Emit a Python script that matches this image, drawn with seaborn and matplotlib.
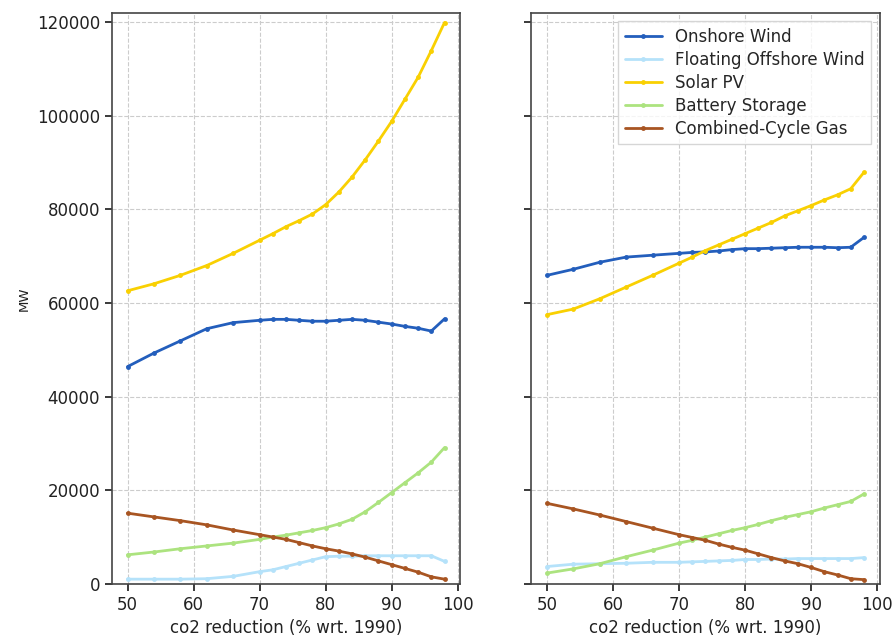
import numpy as np
import pandas as pd
import matplotlib
matplotlib.use("Agg")
import matplotlib.pyplot as plt
import seaborn as sns

co2_reduction = [50, 54, 58, 62, 66, 70, 72, 74, 76, 78, 80, 82, 84, 86, 88, 90, 92, 94, 96, 98]
technologies = ["Onshore Wind", "Floating Offshore Wind", "Solar PV", "Battery Storage", "Combined-Cycle Gas"]
colors = ["#235ebc", "#b5e2fa", "#f9d002", "#ace37f", "#a85522"]

# Left panel (MW)
left_onshore = [46400, 49300, 51900, 54500, 55800, 56300, 56500, 56500, 56300, 56100, 56100, 56300, 56500, 56300, 55900, 55500, 55000, 54600, 54000, 56600]
left_floating = [1000, 1000, 1000, 1100, 1600, 2600, 3000, 3700, 4400, 5100, 5800, 5900, 5900, 6000, 6000, 6000, 6000, 6000, 6000, 4800]
left_solar = [62600, 64100, 65900, 68000, 70600, 73400, 74800, 76300, 77600, 79000, 81000, 83700, 86900, 90600, 94600, 98800, 103500, 108200, 113900, 119900]
left_battery = [6200, 6800, 7500, 8100, 8700, 9500, 10000, 10400, 10900, 11400, 12000, 12800, 13800, 15400, 17400, 19500, 21600, 23700, 26000, 29100]
left_gas = [15100, 14300, 13500, 12600, 11500, 10500, 10000, 9500, 8800, 8100, 7500, 7000, 6400, 5700, 4900, 4100, 3300, 2500, 1500, 1000]

# Right panel (MW)
right_onshore = [65900, 67200, 68700, 69800, 70200, 70600, 70800, 70900, 71100, 71400, 71600, 71600, 71700, 71800, 71900, 71900, 71900, 71800, 71900, 74000]
right_floating = [3700, 4200, 4300, 4400, 4600, 4600, 4700, 4800, 4900, 5000, 5200, 5200, 5300, 5300, 5400, 5400, 5400, 5400, 5400, 5600]
right_solar = [57500, 58700, 60900, 63400, 65900, 68500, 69800, 71200, 72400, 73600, 74800, 76000, 77200, 78600, 79700, 80800, 82000, 83100, 84400, 87900]
right_battery = [2300, 3200, 4300, 5800, 7200, 8700, 9300, 10000, 10700, 11400, 12000, 12700, 13500, 14200, 14800, 15400, 16200, 16900, 17600, 19200]
right_gas = [17200, 16000, 14700, 13300, 11900, 10500, 9900, 9300, 8500, 7800, 7200, 6400, 5600, 4900, 4300, 3500, 2600, 1900, 1100, 900]

y_ticks = [0, 20000, 40000, 60000, 80000, 100000, 120000]
x_ticks = [50, 60, 70, 80, 90, 100]


def long_frame(series):
    rows = []
    for tech, vals in zip(technologies, series):
        for x, v in zip(co2_reduction, vals):
            rows.append({"co2": x, "MW": v, "tech": tech})
    return pd.DataFrame(rows)


df_left = long_frame([left_onshore, left_floating, left_solar, left_battery, left_gas])
df_right = long_frame([right_onshore, right_floating, right_solar, right_battery, right_gas])

sns.set_theme(style="ticks")
plt.rcParams["font.family"] = ["DejaVu Sans"]

fig, axes = plt.subplots(1, 2, figsize=(8.95, 6.36), dpi=100, sharey=True)
fig.subplots_adjust(left=0.1248, right=0.983, bottom=0.082, top=0.980, wspace=0.203)

palette = dict(zip(technologies, colors))

for ax, df, show_legend in [(axes[0], df_left, False), (axes[1], df_right, True)]:
    sns.lineplot(data=df, x="co2", y="MW", hue="tech", hue_order=technologies,
                 palette=palette, marker="o", markersize=3.5, markeredgewidth=0,
                 linewidth=2, ax=ax, legend=show_legend)
    ax.set_ylim(0, 122000)
    ax.set_xticks(x_ticks)
    ax.set_yticks(y_ticks)
    ax.grid(True, linestyle="--", color="#cccccc", linewidth=0.8)
    ax.set_xlabel("co2 reduction (% wrt. 1990)", fontsize=12, color="#222222")
    ax.tick_params(axis="both", labelsize=12, colors="#222222", direction="out", length=5)
    for sp in ax.spines.values():
        sp.set_color("#444444")
        sp.set_linewidth(1.2)

axes[0].set_ylabel("MW", fontsize=9.5, color="#222222")
axes[1].set_ylabel("")
axes[1].tick_params(axis="y", labelleft=False)

leg = axes[1].legend(loc="upper right", fontsize=12, frameon=True, fancybox=False,
                     borderpad=0.4, labelspacing=0.3, handlelength=2.2)
leg.get_frame().set_edgecolor("#cccccc")
for line in leg.get_lines():
    line.set_linewidth(2)

fig.savefig("out.png", dpi=100)
